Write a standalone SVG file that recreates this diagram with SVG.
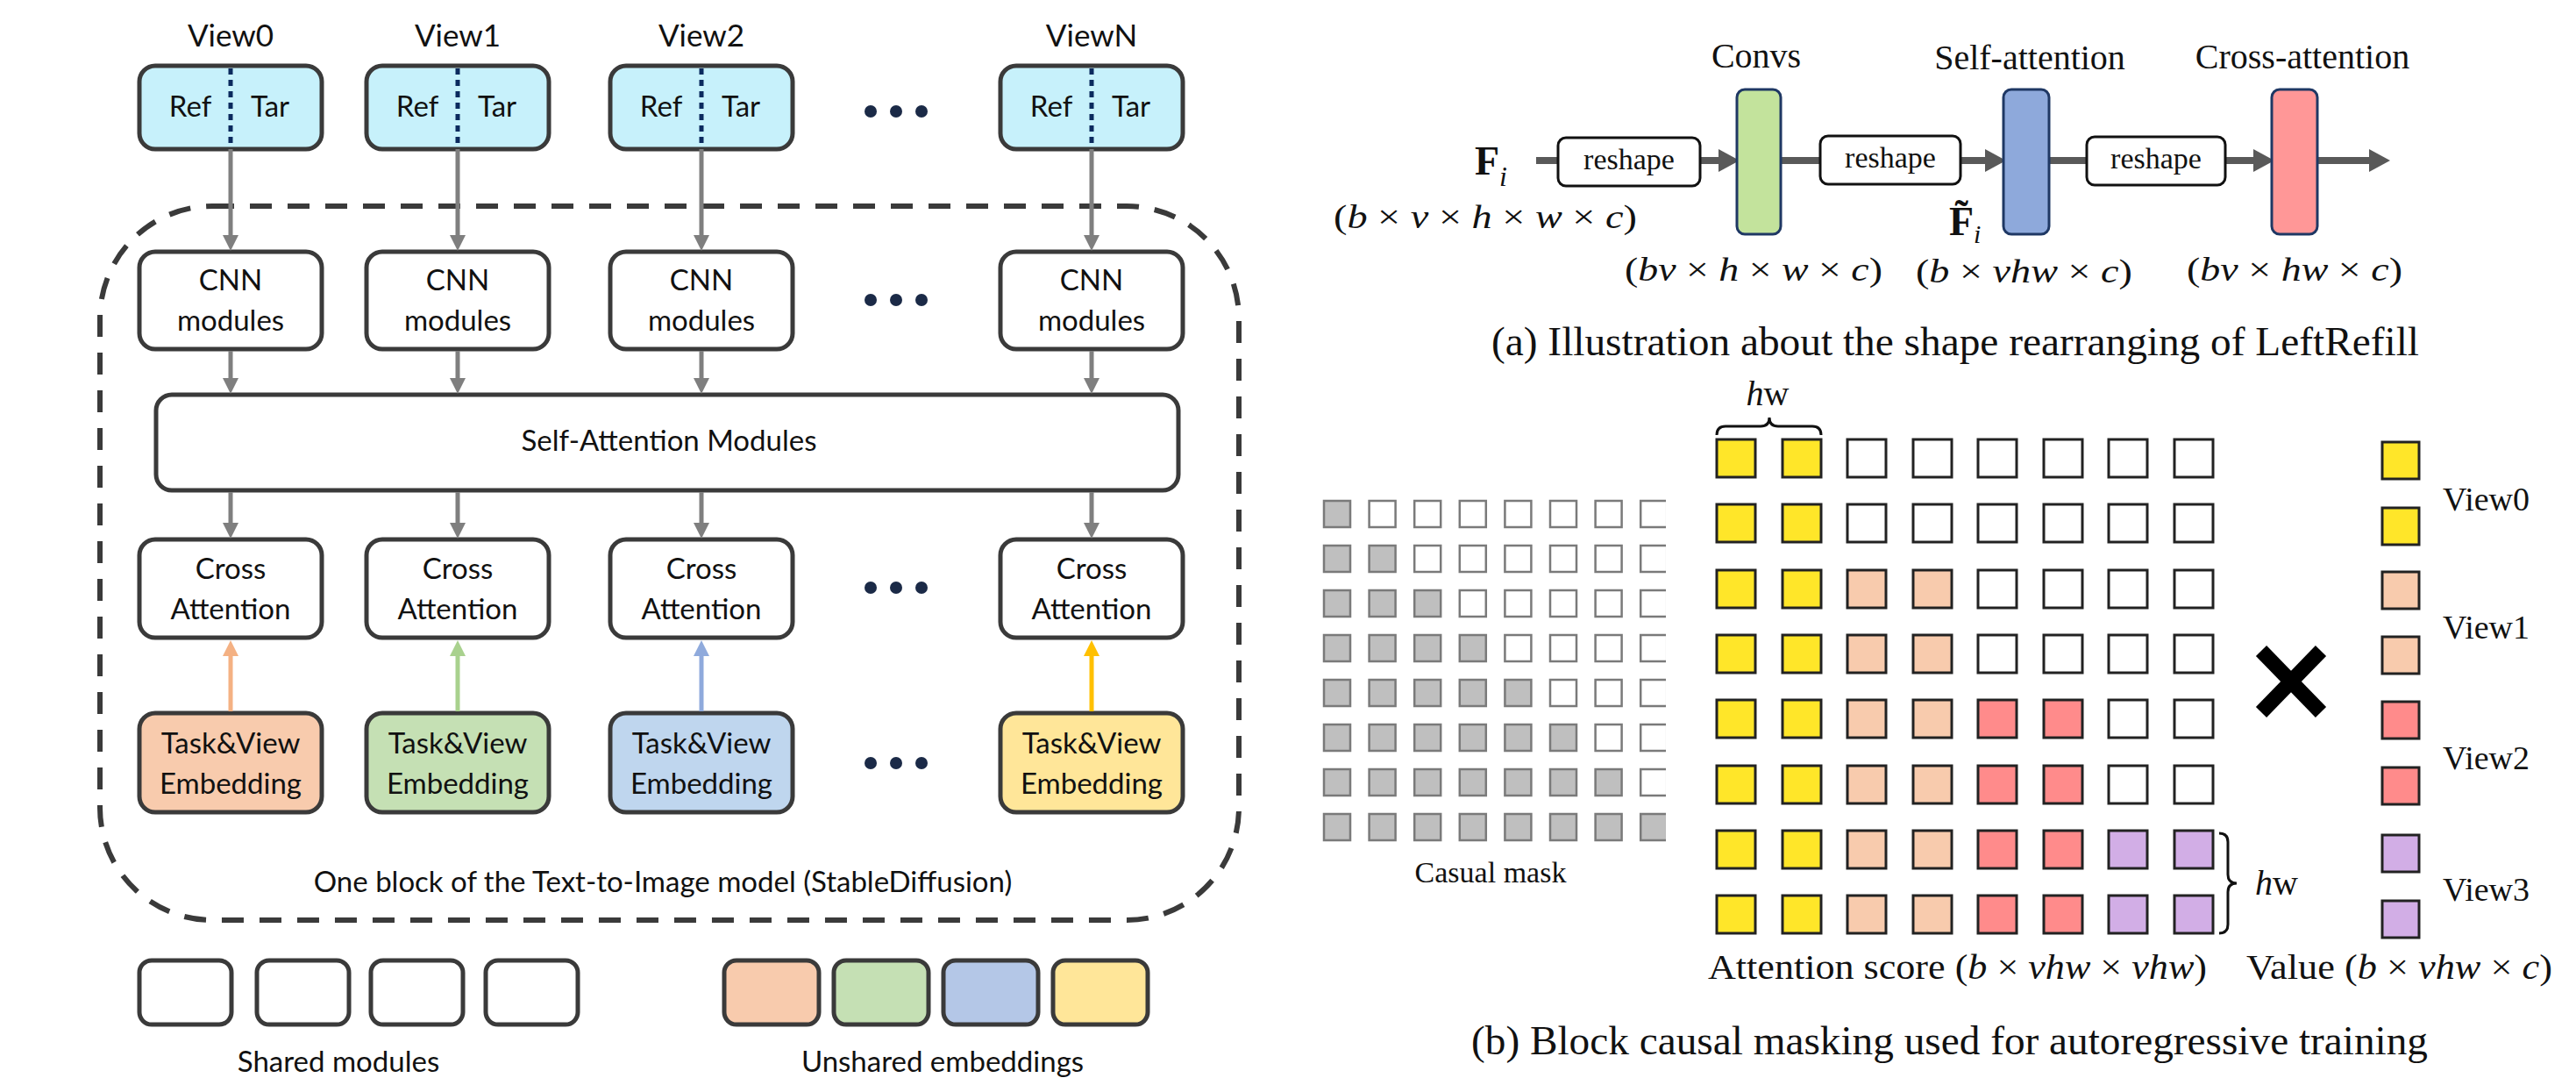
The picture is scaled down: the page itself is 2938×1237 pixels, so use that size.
<svg xmlns="http://www.w3.org/2000/svg" width="2938" height="1237" viewBox="0 0 2938 1237">
<defs>
<style>
.bx{fill:#fff;stroke:#3a3a3a;stroke-width:5}
.ref{fill:#C7F1FB;stroke:#3a3a3a;stroke-width:5}
.div{stroke:#0B2A5E;stroke-width:5;stroke-dasharray:7 6}
.t{font-family:Lato,"Liberation Sans",sans-serif;font-size:33px;fill:#111;text-anchor:middle}
.tv{font-family:Lato,"Liberation Sans",sans-serif;font-size:35px;fill:#111;text-anchor:middle}
.ga{stroke:#7f7f7f;stroke-width:5;fill:none;marker-end:url(#mg)}
.dot{fill:#1B2A47}
.s{font-family:"Liberation Serif","Times New Roman",serif;fill:#111}
.c{stroke:#222;stroke-width:3}
.cm{stroke:#7a7a7a;stroke-width:2.5}
.rs{fill:#fff;stroke:#111;stroke-width:3}
.bar{stroke:#1F3864;stroke-width:3}
.pa{stroke:#595959;stroke-width:8;fill:none;marker-end:url(#ma)}
</style>
<marker id="mg" markerUnits="userSpaceOnUse" markerWidth="20" markerHeight="20" refX="8" refY="9" orient="auto"><path d="M0,0 L18,9 L0,18 z" fill="#7f7f7f"/></marker>
<marker id="mo" markerUnits="userSpaceOnUse" markerWidth="20" markerHeight="20" refX="8" refY="9" orient="auto"><path d="M0,0 L18,9 L0,18 z" fill="#F4B183"/></marker>
<marker id="mgr" markerUnits="userSpaceOnUse" markerWidth="20" markerHeight="20" refX="8" refY="9" orient="auto"><path d="M0,0 L18,9 L0,18 z" fill="#A9D18E"/></marker>
<marker id="mb" markerUnits="userSpaceOnUse" markerWidth="20" markerHeight="20" refX="8" refY="9" orient="auto"><path d="M0,0 L18,9 L0,18 z" fill="#8FAADC"/></marker>
<marker id="my" markerUnits="userSpaceOnUse" markerWidth="20" markerHeight="20" refX="8" refY="9" orient="auto"><path d="M0,0 L18,9 L0,18 z" fill="#FFC000"/></marker>
<marker id="ma" markerUnits="userSpaceOnUse" markerWidth="26" markerHeight="28" refX="10" refY="13" orient="auto"><path d="M0,0 L24,13 L0,26 z" fill="#595959"/></marker>
<clipPath id="cmclip"><rect x="1490" y="550" width="410" height="430"/></clipPath>
</defs>
<rect x="0" y="0" width="2938" height="1237" fill="#fff"/>

<!-- outer dashed block -->
<g id="block">
<rect x="114" y="235" width="1299" height="814" rx="128" ry="128" fill="none" stroke="#3a3a3a" stroke-width="6" stroke-dasharray="25 18"/>
<text class="t" x="756" y="1017">One block of the Text-to-Image model (StableDiffusion)</text>
</g>

<!-- view labels -->
<g id="view-labels">
<text class="tv" x="263" y="53">View0</text>
<text class="tv" x="522" y="53">View1</text>
<text class="tv" x="800" y="53">View2</text>
<text class="tv" x="1245" y="53">ViewN</text>
</g>

<!-- Ref/Tar inputs -->
<g id="input0"><rect class="ref" x="159" y="75" width="208" height="95" rx="18"/><line class="div" x1="263" y1="78" x2="263" y2="168"/><text class="t" x="217" y="133">Ref</text><text class="t" x="308" y="133">Tar</text></g>
<g id="input1"><rect class="ref" x="418" y="75" width="208" height="95" rx="18"/><line class="div" x1="522" y1="78" x2="522" y2="168"/><text class="t" x="476" y="133">Ref</text><text class="t" x="567" y="133">Tar</text></g>
<g id="input2"><rect class="ref" x="696" y="75" width="208" height="95" rx="18"/><line class="div" x1="800" y1="78" x2="800" y2="168"/><text class="t" x="754" y="133">Ref</text><text class="t" x="845" y="133">Tar</text></g>
<g id="inputN"><rect class="ref" x="1141" y="75" width="208" height="95" rx="18"/><line class="div" x1="1245" y1="78" x2="1245" y2="168"/><text class="t" x="1199" y="133">Ref</text><text class="t" x="1290" y="133">Tar</text></g>

<!-- CNN -->
<g id="cnn0"><rect class="bx" x="159" y="287" width="208" height="111" rx="18"/><text class="t" x="263" y="331">CNN</text><text class="t" x="263" y="377">modules</text></g>
<g id="cnn1"><rect class="bx" x="418" y="287" width="208" height="111" rx="18"/><text class="t" x="522" y="331">CNN</text><text class="t" x="522" y="377">modules</text></g>
<g id="cnn2"><rect class="bx" x="696" y="287" width="208" height="111" rx="18"/><text class="t" x="800" y="331">CNN</text><text class="t" x="800" y="377">modules</text></g>
<g id="cnnN"><rect class="bx" x="1141" y="287" width="208" height="111" rx="18"/><text class="t" x="1245" y="331">CNN</text><text class="t" x="1245" y="377">modules</text></g>

<!-- Self attention -->
<g id="self-attention"><rect class="bx" x="178" y="450" width="1166" height="109" rx="18"/><text class="t" x="763" y="514">Self-Attention Modules</text></g>

<!-- Cross attention -->
<g id="cross0"><rect class="bx" x="159" y="615" width="208" height="112" rx="18"/><text class="t" x="263" y="660">Cross</text><text class="t" x="263" y="706">Attention</text></g>
<g id="cross1"><rect class="bx" x="418" y="615" width="208" height="112" rx="18"/><text class="t" x="522" y="660">Cross</text><text class="t" x="522" y="706">Attention</text></g>
<g id="cross2"><rect class="bx" x="696" y="615" width="208" height="112" rx="18"/><text class="t" x="800" y="660">Cross</text><text class="t" x="800" y="706">Attention</text></g>
<g id="crossN"><rect class="bx" x="1141" y="615" width="208" height="112" rx="18"/><text class="t" x="1245" y="660">Cross</text><text class="t" x="1245" y="706">Attention</text></g>

<!-- Task & View embeddings -->
<g id="emb0"><rect x="159" y="813" width="208" height="113" rx="18" fill="#F8CBAD" stroke="#3a3a3a" stroke-width="5"/><text class="t" x="263" y="859">Task&amp;View</text><text class="t" x="263" y="905">Embedding</text></g>
<g id="emb1"><rect x="418" y="813" width="208" height="113" rx="18" fill="#C5E0B4" stroke="#3a3a3a" stroke-width="5"/><text class="t" x="522" y="859">Task&amp;View</text><text class="t" x="522" y="905">Embedding</text></g>
<g id="emb2"><rect x="696" y="813" width="208" height="113" rx="18" fill="#BFD6EE" stroke="#3a3a3a" stroke-width="5"/><text class="t" x="800" y="859">Task&amp;View</text><text class="t" x="800" y="905">Embedding</text></g>
<g id="embN"><rect x="1141" y="813" width="208" height="113" rx="18" fill="#FFE699" stroke="#3a3a3a" stroke-width="5"/><text class="t" x="1245" y="859">Task&amp;View</text><text class="t" x="1245" y="905">Embedding</text></g>

<!-- ellipsis dots -->
<g id="ellipses">
<circle class="dot" cx="993" cy="127" r="7"/><circle class="dot" cx="1022" cy="127" r="7"/><circle class="dot" cx="1051" cy="127" r="7"/>
<circle class="dot" cx="993" cy="342" r="7"/><circle class="dot" cx="1022" cy="342" r="7"/><circle class="dot" cx="1051" cy="342" r="7"/>
<circle class="dot" cx="993" cy="670" r="7"/><circle class="dot" cx="1022" cy="670" r="7"/><circle class="dot" cx="1051" cy="670" r="7"/>
<circle class="dot" cx="993" cy="870" r="7"/><circle class="dot" cx="1022" cy="870" r="7"/><circle class="dot" cx="1051" cy="870" r="7"/>
</g>

<!-- connectors -->
<g id="connectors">
<path class="ga" d="M263,170 V276"/><path class="ga" d="M522,170 V276"/><path class="ga" d="M800,170 V276"/><path class="ga" d="M1245,170 V276"/>
<path class="ga" d="M263,400 V439"/><path class="ga" d="M522,400 V439"/><path class="ga" d="M800,400 V439"/><path class="ga" d="M1245,400 V439"/>
<path class="ga" d="M263,561 V604"/><path class="ga" d="M522,561 V604"/><path class="ga" d="M800,561 V604"/><path class="ga" d="M1245,561 V604"/>
<path d="M263,811 V740" stroke="#F4B183" stroke-width="5" fill="none" marker-end="url(#mo)"/>
<path d="M522,811 V740" stroke="#A9D18E" stroke-width="5" fill="none" marker-end="url(#mgr)"/>
<path d="M800,811 V740" stroke="#8FAADC" stroke-width="5" fill="none" marker-end="url(#mb)"/>
<path d="M1245,811 V740" stroke="#FFC000" stroke-width="5" fill="none" marker-end="url(#my)"/>
<path class="pa" d="M1752,183 H1970"/>
<path class="pa" d="M2031,183 H2274"/>
<path class="pa" d="M2337,183 H2580"/>
<path class="pa" d="M2643,183 H2712"/>
</g>

<!-- legend -->
<g id="legend-shared">
<rect class="bx" x="159" y="1095" width="105" height="73" rx="14"/>
<rect class="bx" x="293" y="1095" width="105" height="73" rx="14"/>
<rect class="bx" x="423" y="1095" width="105" height="73" rx="14"/>
<rect class="bx" x="554" y="1095" width="105" height="73" rx="14"/>
<text class="t" x="386" y="1222">Shared modules</text>
</g>
<g id="legend-unshared">
<rect x="826" y="1095" width="108" height="73" rx="14" fill="#F8CBAD" stroke="#3a3a3a" stroke-width="5"/>
<rect x="951" y="1095" width="108" height="73" rx="14" fill="#C5E0B4" stroke="#3a3a3a" stroke-width="5"/>
<rect x="1076" y="1095" width="108" height="73" rx="14" fill="#B4C7E7" stroke="#3a3a3a" stroke-width="5"/>
<rect x="1201" y="1095" width="108" height="73" rx="14" fill="#FFE699" stroke="#3a3a3a" stroke-width="5"/>
<text class="t" x="1075" y="1222">Unshared embeddings</text>
</g>

<!-- (a) shape rearranging -->
<text id="fi" class="s" x="1682" y="199" font-size="46" font-weight="bold">F<tspan font-size="32" font-weight="normal" font-style="italic" dy="13">i</tspan></text>
<text class="s" x="1521" y="260" font-size="38" textLength="346" lengthAdjust="spacingAndGlyphs">(<tspan font-style="italic">b</tspan> × <tspan font-style="italic">v</tspan> × <tspan font-style="italic">h</tspan> × <tspan font-style="italic">w</tspan> × <tspan font-style="italic">c</tspan>)</text>
<g id="reshape1"><rect class="rs" x="1777" y="157" width="162" height="55" rx="9"/><text class="s" x="1858" y="193" font-size="34" text-anchor="middle">reshape</text></g>
<g id="reshape2"><rect class="rs" x="2076" y="155" width="160" height="55" rx="9"/><text class="s" x="2156" y="191" font-size="34" text-anchor="middle">reshape</text></g>
<g id="reshape3"><rect class="rs" x="2380" y="156" width="158" height="55" rx="9"/><text class="s" x="2459" y="192" font-size="34" text-anchor="middle">reshape</text></g>
<g id="convs"><rect class="bar" x="1981" y="102" width="50" height="165" rx="9" fill="#C3E39C"/><text class="s" x="2003" y="77" font-size="40" text-anchor="middle">Convs</text></g>
<g id="selfattn"><rect class="bar" x="2285" y="102" width="52" height="165" rx="9" fill="#8EA9DB"/><text class="s" x="2315" y="79" font-size="40" text-anchor="middle">Self-attention</text></g>
<g id="crossattn"><rect class="bar" x="2591" y="102" width="52" height="165" rx="9" fill="#FF9797"/><text class="s" x="2626" y="78" font-size="40" text-anchor="middle">Cross-attention</text></g>
<text id="fti" class="s" x="2223" y="268" font-size="46" font-weight="bold">F̃<tspan font-size="30" font-weight="normal" font-style="italic" dy="9">i</tspan></text>
<text class="s" x="1853" y="320" font-size="38" textLength="294" lengthAdjust="spacingAndGlyphs">(<tspan font-style="italic">bv</tspan> × <tspan font-style="italic">h</tspan> × <tspan font-style="italic">w</tspan> × <tspan font-style="italic">c</tspan>)</text>
<text class="s" x="2185" y="322" font-size="38" textLength="247" lengthAdjust="spacingAndGlyphs">(<tspan font-style="italic">b</tspan> × <tspan font-style="italic">vhw</tspan> × <tspan font-style="italic">c</tspan>)</text>
<text class="s" x="2494" y="320" font-size="38" textLength="246" lengthAdjust="spacingAndGlyphs">(<tspan font-style="italic">bv</tspan> × <tspan font-style="italic">hw</tspan> × <tspan font-style="italic">c</tspan>)</text>
<text class="s" x="1701" y="405" font-size="46" textLength="1058" lengthAdjust="spacingAndGlyphs">(a) Illustration about the shape rearranging of LeftRefill</text>

<!-- (b) causal mask -->
<g id="casual-mask" clip-path="url(#cmclip)">
<g fill="#BFBFBF" class="cm">
<rect x="1510" y="571" width="30" height="30"/>
<rect x="1510" y="622" width="30" height="30"/><rect x="1561.6" y="622" width="30" height="30"/>
<rect x="1510" y="673" width="30" height="30"/><rect x="1561.6" y="673" width="30" height="30"/><rect x="1613.2" y="673" width="30" height="30"/>
<rect x="1510" y="724" width="30" height="30"/><rect x="1561.6" y="724" width="30" height="30"/><rect x="1613.2" y="724" width="30" height="30"/><rect x="1664.8" y="724" width="30" height="30"/>
<rect x="1510" y="775" width="30" height="30"/><rect x="1561.6" y="775" width="30" height="30"/><rect x="1613.2" y="775" width="30" height="30"/><rect x="1664.8" y="775" width="30" height="30"/><rect x="1716.4" y="775" width="30" height="30"/>
<rect x="1510" y="826" width="30" height="30"/><rect x="1561.6" y="826" width="30" height="30"/><rect x="1613.2" y="826" width="30" height="30"/><rect x="1664.8" y="826" width="30" height="30"/><rect x="1716.4" y="826" width="30" height="30"/><rect x="1768" y="826" width="30" height="30"/>
<rect x="1510" y="877" width="30" height="30"/><rect x="1561.6" y="877" width="30" height="30"/><rect x="1613.2" y="877" width="30" height="30"/><rect x="1664.8" y="877" width="30" height="30"/><rect x="1716.4" y="877" width="30" height="30"/><rect x="1768" y="877" width="30" height="30"/><rect x="1819.6" y="877" width="30" height="30"/>
<rect x="1510" y="928" width="30" height="30"/><rect x="1561.6" y="928" width="30" height="30"/><rect x="1613.2" y="928" width="30" height="30"/><rect x="1664.8" y="928" width="30" height="30"/><rect x="1716.4" y="928" width="30" height="30"/><rect x="1768" y="928" width="30" height="30"/><rect x="1819.6" y="928" width="30" height="30"/><rect x="1871.2" y="928" width="30" height="30"/>
</g>
<g fill="#fff" class="cm">
<rect x="1561.6" y="571" width="30" height="30"/><rect x="1613.2" y="571" width="30" height="30"/><rect x="1664.8" y="571" width="30" height="30"/><rect x="1716.4" y="571" width="30" height="30"/><rect x="1768" y="571" width="30" height="30"/><rect x="1819.6" y="571" width="30" height="30"/><rect x="1871.2" y="571" width="30" height="30"/>
<rect x="1613.2" y="622" width="30" height="30"/><rect x="1664.8" y="622" width="30" height="30"/><rect x="1716.4" y="622" width="30" height="30"/><rect x="1768" y="622" width="30" height="30"/><rect x="1819.6" y="622" width="30" height="30"/><rect x="1871.2" y="622" width="30" height="30"/>
<rect x="1664.8" y="673" width="30" height="30"/><rect x="1716.4" y="673" width="30" height="30"/><rect x="1768" y="673" width="30" height="30"/><rect x="1819.6" y="673" width="30" height="30"/><rect x="1871.2" y="673" width="30" height="30"/>
<rect x="1716.4" y="724" width="30" height="30"/><rect x="1768" y="724" width="30" height="30"/><rect x="1819.6" y="724" width="30" height="30"/><rect x="1871.2" y="724" width="30" height="30"/>
<rect x="1768" y="775" width="30" height="30"/><rect x="1819.6" y="775" width="30" height="30"/><rect x="1871.2" y="775" width="30" height="30"/>
<rect x="1819.6" y="826" width="30" height="30"/><rect x="1871.2" y="826" width="30" height="30"/>
<rect x="1871.2" y="877" width="30" height="30"/>
</g>
</g>
<text class="s" x="1700" y="1006" font-size="34" text-anchor="middle">Casual mask</text>

<!-- (b) attention score matrix -->
<g id="attention-score" class="c">
<g fill="#FFE629">
<rect x="1958" y="501" width="44" height="43"/><rect x="2033" y="501" width="44" height="43"/>
<rect x="1958" y="575" width="44" height="43"/><rect x="2033" y="575" width="44" height="43"/>
<rect x="1958" y="650" width="44" height="43"/><rect x="2033" y="650" width="44" height="43"/>
<rect x="1958" y="724" width="44" height="43"/><rect x="2033" y="724" width="44" height="43"/>
<rect x="1958" y="798" width="44" height="43"/><rect x="2033" y="798" width="44" height="43"/>
<rect x="1958" y="873" width="44" height="43"/><rect x="2033" y="873" width="44" height="43"/>
<rect x="1958" y="947" width="44" height="43"/><rect x="2033" y="947" width="44" height="43"/>
<rect x="1958" y="1021" width="44" height="43"/><rect x="2033" y="1021" width="44" height="43"/>
</g>
<g fill="#F8CBAD">
<rect x="2107" y="650" width="44" height="43"/><rect x="2182" y="650" width="44" height="43"/>
<rect x="2107" y="724" width="44" height="43"/><rect x="2182" y="724" width="44" height="43"/>
<rect x="2107" y="798" width="44" height="43"/><rect x="2182" y="798" width="44" height="43"/>
<rect x="2107" y="873" width="44" height="43"/><rect x="2182" y="873" width="44" height="43"/>
<rect x="2107" y="947" width="44" height="43"/><rect x="2182" y="947" width="44" height="43"/>
<rect x="2107" y="1021" width="44" height="43"/><rect x="2182" y="1021" width="44" height="43"/>
</g>
<g fill="#FF8B8B">
<rect x="2256" y="798" width="44" height="43"/><rect x="2331" y="798" width="44" height="43"/>
<rect x="2256" y="873" width="44" height="43"/><rect x="2331" y="873" width="44" height="43"/>
<rect x="2256" y="947" width="44" height="43"/><rect x="2331" y="947" width="44" height="43"/>
<rect x="2256" y="1021" width="44" height="43"/><rect x="2331" y="1021" width="44" height="43"/>
</g>
<g fill="#D2AEE6">
<rect x="2405" y="947" width="44" height="43"/><rect x="2480" y="947" width="44" height="43"/>
<rect x="2405" y="1021" width="44" height="43"/><rect x="2480" y="1021" width="44" height="43"/>
</g>
<g fill="#fff">
<rect x="2107" y="501" width="44" height="43"/><rect x="2182" y="501" width="44" height="43"/><rect x="2256" y="501" width="44" height="43"/><rect x="2331" y="501" width="44" height="43"/><rect x="2405" y="501" width="44" height="43"/><rect x="2480" y="501" width="44" height="43"/>
<rect x="2107" y="575" width="44" height="43"/><rect x="2182" y="575" width="44" height="43"/><rect x="2256" y="575" width="44" height="43"/><rect x="2331" y="575" width="44" height="43"/><rect x="2405" y="575" width="44" height="43"/><rect x="2480" y="575" width="44" height="43"/>
<rect x="2256" y="650" width="44" height="43"/><rect x="2331" y="650" width="44" height="43"/><rect x="2405" y="650" width="44" height="43"/><rect x="2480" y="650" width="44" height="43"/>
<rect x="2256" y="724" width="44" height="43"/><rect x="2331" y="724" width="44" height="43"/><rect x="2405" y="724" width="44" height="43"/><rect x="2480" y="724" width="44" height="43"/>
<rect x="2405" y="798" width="44" height="43"/><rect x="2480" y="798" width="44" height="43"/>
<rect x="2405" y="873" width="44" height="43"/><rect x="2480" y="873" width="44" height="43"/>
</g>
</g>
<g id="braces" fill="none" stroke="#111" stroke-width="3">
<path d="M1958,496 Q1958,486 1968,486 L2008,486 Q2018,486 2018,476 Q2018,486 2028,486 L2067,486 Q2077,486 2077,496"/>
<path d="M2531,950 Q2541,950 2541,960 L2541,997 Q2541,1007 2551,1007 Q2541,1007 2541,1017 L2541,1054 Q2541,1064 2531,1064"/>
</g>
<text class="s" x="2016" y="462" font-size="40" text-anchor="middle"><tspan font-style="italic">h</tspan>w</text>
<text class="s" x="2572" y="1020" font-size="40"><tspan font-style="italic">h</tspan>w</text>
<text class="s" x="1948" y="1116" font-size="40" textLength="569" lengthAdjust="spacingAndGlyphs">Attention score (<tspan font-style="italic">b</tspan> × <tspan font-style="italic">vhw</tspan> × <tspan font-style="italic">vhw</tspan>)</text>

<!-- multiply sign -->
<g id="times" stroke="#000" stroke-width="17">
<line x1="2579" y1="742" x2="2647" y2="812"/><line x1="2647" y1="742" x2="2579" y2="812"/>
</g>

<!-- value column -->
<g id="value" class="c">
<rect x="2717" y="504" width="42" height="42" fill="#FFE629"/>
<rect x="2717" y="579" width="42" height="42" fill="#FFE629"/>
<rect x="2717" y="652" width="42" height="42" fill="#F8CBAD"/>
<rect x="2717" y="726" width="42" height="42" fill="#F8CBAD"/>
<rect x="2717" y="800" width="42" height="42" fill="#FF8B8B"/>
<rect x="2717" y="875" width="42" height="42" fill="#FF8B8B"/>
<rect x="2717" y="952" width="42" height="42" fill="#D2AEE6"/>
<rect x="2717" y="1027" width="42" height="42" fill="#D2AEE6"/>
</g>
<g id="value-labels" font-size="38">
<text class="s" x="2786" y="582">View0</text>
<text class="s" x="2786" y="728">View1</text>
<text class="s" x="2786" y="877">View2</text>
<text class="s" x="2786" y="1027">View3</text>
</g>
<text class="s" x="2562" y="1116" font-size="40" textLength="349" lengthAdjust="spacingAndGlyphs">Value (<tspan font-style="italic">b</tspan> × <tspan font-style="italic">vhw</tspan> × <tspan font-style="italic">c</tspan>)</text>
<text class="s" x="1678" y="1202" font-size="47" textLength="1091" lengthAdjust="spacingAndGlyphs">(b) Block causal masking used for autoregressive training</text>
</svg>
